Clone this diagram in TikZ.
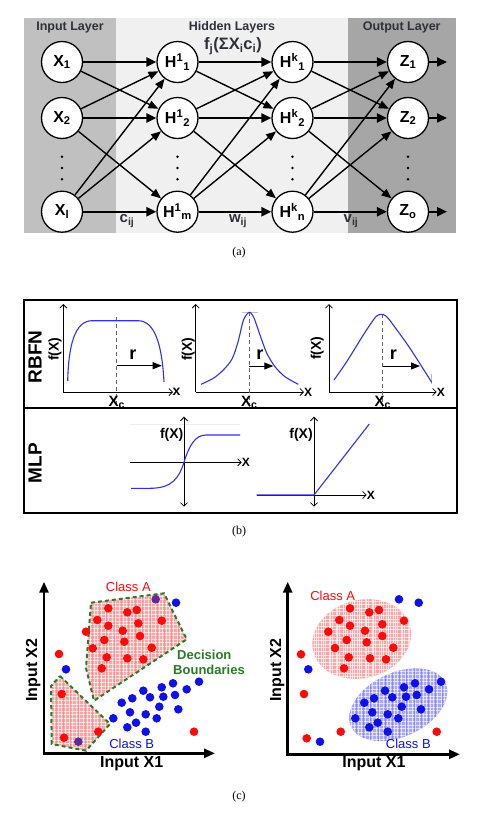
\documentclass[tikz,border=0pt]{standalone}
\usepackage{fontspec}
\setmainfont{Liberation Sans}
\newfontfamily\capfont{Liberation Serif}
\usetikzlibrary{arrows.meta}
\definecolor{ingray}{HTML}{C0C0C0}
\definecolor{hidgray}{HTML}{F0F0F0}
\definecolor{outgray}{HTML}{A6A6A6}
\definecolor{lbl}{HTML}{30303C}
\definecolor{plotblue}{HTML}{3030F0}
\definecolor{dotred}{HTML}{FF0A0A}
\definecolor{dotblue}{HTML}{1010E8}
\definecolor{dotpurple}{HTML}{5A2AA0}
\definecolor{pinkfill}{HTML}{F6A8A8}
\definecolor{bluefill}{HTML}{A8A8F4}
\definecolor{bndgreen}{HTML}{2A7A2A}
\begin{document}
\begin{tikzpicture}[x=1pt,y=-1pt,
  neuron/.style={circle,draw,line width=1.3pt,fill=white,minimum size=41pt,inner sep=0pt,font=\fontsize{16}{18}\selectfont\bfseries},
  layerlbl/.style={font=\fontsize{12.5}{14}\selectfont\bfseries,text=lbl,inner sep=0pt},
  wlbl/.style={font=\fontsize{15}{16}\selectfont\bfseries,text=lbl,inner sep=0pt},
  strong/.style={line width=2.4pt,-{Triangle[length=10pt,width=9pt]}},
  weak/.style={line width=1.4pt,-{Triangle[length=10pt,width=8pt]}},
  axisarr/.style={line width=0.8pt,-{Straight Barb[length=3.5pt,width=7pt]}},
  daxisarr/.style={line width=0.8pt,{Straight Barb[length=3.5pt,width=7pt]}-{Straight Barb[length=3.5pt,width=7pt]}},
  bcurve/.style={draw=plotblue,line width=1.1pt},
  dashln/.style={gray!80!black,dashed,line width=0.8pt,dash pattern=on 4pt off 3pt},
  rarr/.style={line width=1pt,-{Triangle[length=9pt,width=7pt]}},
  plbl/.style={font=\fontsize{12}{13}\selectfont\bfseries,inner sep=0pt},
  flbl/.style={font=\fontsize{14}{15}\selectfont\bfseries,inner sep=0pt},
  rlbl/.style={font=\fontsize{18}{19}\selectfont\bfseries,inner sep=0pt},
  xclbl/.style={font=\fontsize{15}{16}\selectfont\bfseries,inner sep=0pt,anchor=north},
  biglbl/.style={font=\fontsize{19}{20}\selectfont\bfseries,inner sep=0pt,rotate=90},
  caplbl/.style={font=\capfont\fontsize{12}{13}\selectfont,inner sep=0pt},
  axlbl/.style={font=\fontsize{16}{17}\selectfont\bfseries,inner sep=0pt},
  classlbl/.style={font=\fontsize{13}{14}\selectfont,inner sep=0pt},
  bigaxis/.style={line width=2.6pt,-{Triangle[length=11pt,width=9pt]}},
  bnd/.style={draw=bndgreen,line width=2pt,dash pattern=on 4pt off 3pt},
  rdot/.style={fill=dotred},
  bdot/.style={fill=dotblue},
  pdot/.style={fill=dotpurple}
]
\fill[white] (0,0) rectangle (478,815);
\useasboundingbox (0,0) rectangle (478,815);

% ================= (a) =================
\fill[ingray] (24,18) rectangle (116,233);
\fill[hidgray] (116,18) rectangle (348,233);
\fill[outgray] (348,18) rectangle (456,233);

\node[layerlbl] (lin) at (70,27) {Input Layer};
\node[layerlbl] (lhid) at (232,27) {Hidden Layers};
\node[layerlbl] (lout) at (401.7,27) {Output Layer};

\node[neuron] (x1) at (62,62) {X\textsubscript{1}};
\node[neuron] (x2) at (62,118) {X\textsubscript{2}};
\node[neuron] (xl) at (62,211.7) {X\textsubscript{l}};
\node[neuron] (h1) at (177.5,62) {H\textsuperscript{1}\textsubscript{1}};
\node[neuron] (h2) at (177.5,118) {H\textsuperscript{1}\textsubscript{2}};
\node[neuron] (hm) at (177.5,211.7) {H\textsuperscript{1}\textsubscript{m}};
\node[neuron] (k1) at (292.5,62) {H\textsuperscript{k}\textsubscript{1}};
\node[neuron] (k2) at (292.5,118) {H\textsuperscript{k}\textsubscript{2}};
\node[neuron] (kn) at (292.5,211.7) {H\textsuperscript{k}\textsubscript{n}};
\node[neuron] (z1) at (408,62) {Z\textsubscript{1}};
\node[neuron] (z2) at (408,118) {Z\textsubscript{2}};
\node[neuron] (zo) at (408,211.7) {Z\textsubscript{o}};

\foreach \cx in {62,177.5,292.5,408}
  \foreach \cy in {156.7,168,179.3}
    \fill (\cx,\cy) circle[radius=1.4pt];

\foreach \a/\b in {x1/h1,x2/h2,xl/hm,h1/k1,h2/k2,hm/kn,k1/z1,k2/z2,kn/zo}
  \draw[strong] (\a) -- (\b);
\foreach \a/\b in {x1/h2,x2/h1,x2/hm,xl/h1,xl/h2,h1/k2,h2/k1,h2/kn,hm/k1,hm/k2,k1/z2,k2/z1,k2/zo,kn/z1,kn/z2}
  \draw[weak] (\a) -- (\b);

\coordinate (o1) at (447,62);
\coordinate (o2) at (447,118);
\coordinate (o3) at (447,211.7);
\draw[strong,line width=2pt] (z1) -- (o1);
\draw[strong,line width=2pt] (z2) -- (o2);
\draw[strong,line width=2pt] (zo) -- (o3);

\node[wlbl,font=\fontsize{16.5}{17}\selectfont\bfseries] (fj) at (233,46) {f\textsubscript{j}(ΣX\textsubscript{i}c\textsubscript{i})};
\node[wlbl] (cij) at (127,221) {c\textsubscript{ij}};
\node[wlbl] (wij) at (238,221) {w\textsubscript{ij}};
\node[wlbl] (vij) at (351,221) {v\textsubscript{ij}};

\node[caplbl] (capa) at (239,253) {(a)};

% ================= (b) =================
\node[biglbl] (rbfn) at (35,357) {RBFN};
\node[biglbl] (mlp) at (35,463) {MLP};

% RBFN plot 1
\draw[axisarr] (63.3,392) -- (63.3,304);
\draw[axisarr] (63.3,392) -- (173,392);
\node[plbl,anchor=west,font=\fontsize{14}{15}\selectfont\bfseries] (xa) at (172.5,392) {x};
\node[flbl,rotate=90] (fa) at (55,349) {f(X)};
\draw[dashln] (116.7,317) -- (116.7,410);
\draw[bcurve] (67.7,381) .. controls (68.5,345) and (75,320.7) .. (92,320.7) -- (138,320.7) .. controls (155,320.7) and (162,345) .. (164,382);
\draw[rarr] (116.7,365.7) -- (161.7,365.7);
\node[rlbl] (ra) at (133,355) {r};

% RBFN plot 2
\draw[axisarr] (195.7,392) -- (195.7,304);
\draw[axisarr] (195.7,392) -- (304,392);
\node[plbl,anchor=west] (xb) at (304,392.5) {X};
\node[flbl,rotate=90] (fb) at (188.3,349) {f(X)};
\draw[gray!50,line width=0.8pt] (241.7,312.3) -- (258,312.3);
\draw[dashln] (249.3,312) -- (249.3,410);
\draw[bcurve] plot[smooth,tension=0.5] coordinates {(201,384.3) (213.3,378.3) (223.3,370) (232,359) (238,342) (243.5,320) (249.3,312.3) (254,318) (260,335) (266.7,353) (275,366.7) (285,376.7) (298.3,384.3)};
\draw[rarr] (249.3,366) -- (273.3,366);
\node[rlbl] (rb) at (260,355) {r};

% RBFN plot 3
\draw[axisarr] (329,392) -- (329,304);
\draw[axisarr] (329,392) -- (436.7,392);
\node[plbl,anchor=west] (xcc) at (436.7,392.5) {X};
\node[flbl,rotate=90] (fc) at (317.3,348.3) {f(X)};
\draw[gray!50,line width=0.8pt] (431.7,374) -- (431.7,384);
\draw[dashln] (382.7,314) -- (382.7,410);
\draw[bcurve] plot[smooth,tension=0.5] coordinates {(334,380) (346.7,361.7) (363.3,335) (374,319) (378.3,315) (383.3,314.5) (387.5,317.5) (393.3,325) (410,348.3) (431.7,382.3)};
\draw[rarr] (382.7,366) -- (420,366);
\node[rlbl] (rc) at (393.3,355) {r};

\begin{scope}
  \clip (24,300) rectangle (457,408);
  \node[xclbl] (xc1) at (116.7,396) {X\textsubscript{c}};
  \node[xclbl] (xc2) at (249.3,396) {X\textsubscript{c}};
  \node[xclbl] (xc3) at (382.7,396) {X\textsubscript{c}};
\end{scope}
\fill[white] (24,408) rectangle (457,420);

% MLP plot 1 (sigmoid)
\draw[gray!15,line width=0.8pt] (130,424) -- (240,424);
\draw[daxisarr] (184,506.7) -- (184,416.7);
\draw[axisarr] (130,462.3) -- (241.7,462.3);
\node[plbl,anchor=west] (xd) at (241.7,462.8) {X};
\node[flbl] (fd) at (171.7,435) {f(X)};
\draw[bcurve] (131,488.3) -- (150,488.3) .. controls (172,488.3) and (179,478) .. (184,462.3) .. controls (189,446) and (195,435) .. (206,435) -- (240,435);

% MLP plot 2 (ReLU)
\draw[daxisarr] (314,506.7) -- (314,416.7);
\draw[axisarr] (256.7,495) -- (366.7,495);
\node[plbl,anchor=west] (xe) at (366.7,495.5) {X};
\node[flbl] (fe) at (301,435) {f(X)};
\draw[bcurve] (256.7,495) -- (314,495) -- (369.3,424);

\draw[line width=1.2pt] (24,300) rectangle (457,513);
\draw[line width=1.2pt] (24,408) -- (457,408);

\node[caplbl] (capb) at (239,532) {(b)};

% ================= (c) left =================
\begin{scope}
  \clip (91,602.7) -- (164,593.3) -- (186.7,639.3) -- (94,700.7) -- (86,668) -- cycle
        (60,676) -- (110,724) -- (86,750.7) -- (51.7,744) -- (51,686) -- cycle;
  \fill[pinkfill] (40,585) rectangle (200,760);
  \foreach \gx in {40,43.6,...,200} \draw[white,line width=0.45pt,opacity=0.6] (\gx,585) -- (\gx,760);
  \foreach \gy in {585,588.6,...,760} \draw[white,line width=0.45pt,opacity=0.6] (40,\gy) -- (200,\gy);
  \foreach \gx in {41.8,49,...,200} \draw[red!55,line width=0.4pt,opacity=0.5] (\gx,585) -- (\gx,760);
\end{scope}
\draw[bnd] (91,602.7) -- (164,593.3) -- (186.7,639.3) -- (94,700.7) -- (86,668) -- cycle;
\draw[bnd] (60,676) -- (110,724) -- (86,750.7) -- (51.7,744) -- (51,686) -- cycle;

\foreach \p in {(108.3,608.3),(127.3,612.3),(136.7,610),(97.3,620),(108.3,625.7),(138.3,623.3),(161.7,620.7),(86,631.7),(122.7,630.7),(140,636),(104.3,640),(124.3,641.7),(92.7,648.3),(151.7,647.7),(106.7,657.3),(127.3,658.3),(143.3,659.3),(101.7,668.3),(59,654),(61.7,694),(98.3,731.7),(64,737.7),(194,731.7)}
  \fill[rdot] \p circle[radius=4.3pt];
\foreach \p in {(176,602.7),(66,669.3),(199,681.7),(173,683.3),(161.7,687.3),(143.3,690.7),(186.7,689.3),(132.3,698.3),(150,697.3),(163.3,696.7),(175,695),(121.7,702.7),(159.3,706.7),(178.3,709.3),(130,712.3),(145.7,714.3),(113.3,718.3),(156.7,718.3),(136,722.7),(127.3,727.3),(145.7,731.7)}
  \fill[bdot] \p circle[radius=4.3pt];
\fill[pdot] (155.7,599.3) circle[radius=4.3pt];
\fill[pdot] (78.3,741.7) circle[radius=4.3pt];

\coordinate (lo) at (44,753.3);
\coordinate (ly) at (44,581.7);
\coordinate (lx) at (215,753.3);
\draw[bigaxis] (lo) -- (ly);
\draw[bigaxis] ([xshift=-1.3pt]lo) -- (lx);
\node[axlbl,rotate=90] (lx2) at (33.3,670) {Input X2};
\node[axlbl] (lx1) at (131.7,764) {Input X1};
\node[classlbl,text=dotred] (lca) at (128.3,587.3) {Class A};
\node[classlbl,text=dotblue] (lcb) at (131.7,744.3) {Class B};
\node[classlbl,font=\fontsize{13}{14}\selectfont\bfseries,text=bndgreen] (dec1) at (204.3,655) {Decision};
\node[classlbl,font=\fontsize{13}{14}\selectfont\bfseries,text=bndgreen] (dec2) at (209,670) {Boundaries};

% ================= (c) right =================
\begin{scope}
  \path[clip,rotate around={15:(361.7,639)}] (361.7,639) ellipse[x radius=50pt,y radius=39pt];
  \fill[pinkfill] (300,590) rectangle (420,690);
  \foreach \gx in {300,303.6,...,420} \draw[white,line width=0.45pt,opacity=0.6] (\gx,590) -- (\gx,690);
  \foreach \gy in {590,593.6,...,690} \draw[white,line width=0.45pt,opacity=0.6] (300,\gy) -- (420,\gy);
  \foreach \gx in {301.8,309,...,420} \draw[white,line width=0.7pt,opacity=0.7] (\gx,590) -- (\gx,690);
\end{scope}
\begin{scope}
  \path[clip,rotate around={25:(398.3,704.7)}] (398.3,704.7) ellipse[x radius=52pt,y radius=32pt];
  \fill[bluefill] (340,660) rectangle (460,750);
  \foreach \gx in {340,343.6,...,460} \draw[white,line width=0.45pt,opacity=0.6] (\gx,660) -- (\gx,750);
  \foreach \gy in {660,663.6,...,750} \draw[white,line width=0.45pt,opacity=0.6] (340,\gy) -- (460,\gy);
  \foreach \gx in {341.8,349,...,460} \draw[blue!60,line width=0.4pt,opacity=0.5] (\gx,660) -- (\gx,750);
\end{scope}

\foreach \p in {(350,608.3),(369.3,612.3),(379,610),(339.3,620),(350,625.7),(382.3,624.3),(404,620.7),(328.3,631.7),(365,630.7),(382.3,636),(346.7,640),(366.7,642.3),(335,648),(393.3,647.7),(348.7,657.3),(370,658.3),(386,659.3),(344,668.3),(301,654.3),(304,694),(340.7,731.7),(306.7,738.3),(436.7,731.7)}
  \fill[rdot] \p circle[radius=4.3pt];
\foreach \p in {(399,599.3),(418.7,602.7),(308.3,669.3),(441,681.7),(415,683.3),(404,687.3),(385,690.7),(429,689.3),(374,698.3),(392.3,697.3),(406,696.7),(416.7,695),(364.3,702.7),(401.7,706.7),(421,709.3),(372.3,712.3),(387.7,714.3),(355.3,718.3),(398.3,718.3),(377.7,722.7),(369.3,727.3),(387.7,731.7),(320,741.7)}
  \fill[bdot] \p circle[radius=4.3pt];

\coordinate (ro) at (287.7,754.3);
\coordinate (ry) at (287.7,581.7);
\coordinate (rx) at (460,754.3);
\draw[bigaxis] (ro) -- (ry);
\draw[bigaxis] ([xshift=-1.3pt]ro) -- (rx);
\node[axlbl,rotate=90] (rx2) at (277.3,670) {Input X2};
\node[axlbl] (rx1) at (374,764) {Input X1};
\node[classlbl,text=dotred] (rca) at (332.7,596) {Class A};
\node[classlbl,text=dotblue] (rcb) at (408.3,744.3) {Class B};

\node[caplbl] (capc) at (239,797) {(c)};
\end{tikzpicture}
\end{document}
